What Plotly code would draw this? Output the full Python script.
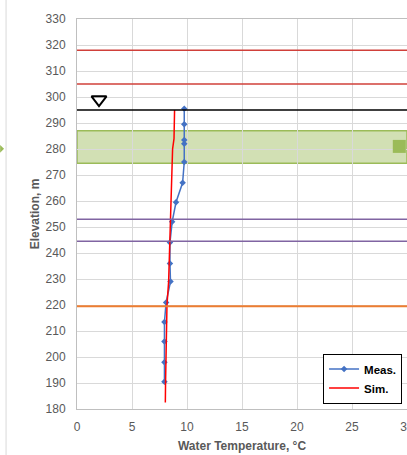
import plotly.graph_objects as go

# ---- data ----
meas_elev = [295.5, 289.5, 283.5, 282, 275, 267, 259.5, 252, 244, 236, 229, 221, 213.5, 206, 198, 190.5]
meas_temp = [9.75, 9.75, 9.75, 9.75, 9.75, 9.6, 9.0, 8.65, 8.45, 8.45, 8.5, 8.1, 7.95, 7.95, 7.95, 7.95]

sim_elev = [295, 284, 280, 270, 260, 253, 244, 229, 220, 210, 200, 190, 182.5]
sim_temp = [8.87, 8.82, 8.69, 8.62, 8.55, 8.5, 8.42, 8.33, 8.18, 8.12, 8.08, 8.05, 8.03]

red_levels = [318, 305]
water_level = 295
purple_levels = [253, 244.5]
orange_level = 219.5
band_bottom, band_top = 274.5, 287
wl_symbol = (2.0, 299)
band_marker = (29.3, 281)

x_ticks = [0, 5, 10, 15, 20, 25, 30]
y_ticks = list(range(180, 331, 10))

font_family = "Liberation Sans"
grey = "#595959"

fig = go.Figure()

# shaded band
fig.add_shape(type="rect", xref="paper", x0=0, x1=1, yref="y", y0=band_bottom, y1=band_top,
              fillcolor="rgba(155,187,89,0.45)", line=dict(color="#9BBB59", width=1.5), layer="below")

for lv in red_levels:
    fig.add_shape(type="line", xref="paper", x0=0, x1=1, yref="y", y0=lv, y1=lv,
                  line=dict(color="#D0403A", width=1.5))
fig.add_shape(type="line", xref="paper", x0=0, x1=1, yref="y", y0=water_level, y1=water_level,
              line=dict(color="#000000", width=1.5))
for lv in purple_levels:
    fig.add_shape(type="line", xref="paper", x0=0, x1=1, yref="y", y0=lv, y1=lv,
                  line=dict(color="#8064A2", width=1.5))
fig.add_shape(type="line", xref="paper", x0=0, x1=1, yref="y", y0=orange_level, y1=orange_level,
              line=dict(color="#ED7D31", width=2))

# outer chart border line on left and small green arrow
fig.add_shape(type="line", xref="paper", yref="paper", x0=-0.215, x1=-0.215, y0=-0.2, y1=1.1,
              line=dict(color="#D9D9D9", width=1))
fig.add_shape(type="path", xref="paper", yref="paper",
              path="M -0.233 0.677 L -0.221 0.667 L -0.233 0.657 Z",
              fillcolor="#9BBB59", line=dict(width=0))

fig.add_trace(go.Scatter(x=meas_temp, y=meas_elev, mode="lines+markers", name="Meas.",
                         line=dict(color="#4472C4", width=1.5),
                         marker=dict(symbol="diamond", size=5, color="#4472C4")))
fig.add_trace(go.Scatter(x=sim_temp, y=sim_elev, mode="lines", name="Sim.",
                         line=dict(color="#FF0000", width=1.5)))
fig.add_trace(go.Scatter(x=[wl_symbol[0]], y=[wl_symbol[1]], mode="markers", showlegend=False,
                         marker=dict(symbol="triangle-down-open", size=13, color="#000000",
                                     line=dict(width=2, color="#000000"))))
fig.add_trace(go.Scatter(x=[band_marker[0]], y=[band_marker[1]], mode="markers", showlegend=False,
                         marker=dict(symbol="square", size=13, color="#9BBB59")))

fig.update_layout(
    width=407, height=455,
    margin=dict(l=77, r=0, t=19, b=46, autoexpand=False),
    paper_bgcolor="white", plot_bgcolor="white",
    font=dict(family=font_family, color=grey, size=12),
    showlegend=True,
    legend=dict(x=0.985, y=0.014, xanchor="right", yanchor="bottom",
                bgcolor="white", bordercolor="#000000", borderwidth=1,
                font=dict(family=font_family, size=11.5, color="#000000", weight="bold"),
                itemwidth=30, tracegroupgap=0),
)
fig.update_xaxes(range=[0, 30], tickvals=x_ticks, showgrid=True, gridcolor="#D9D9D9", gridwidth=1,
                 showline=True, linecolor="#BFBFBF", mirror=True, zeroline=False, ticks="",
                 automargin=False,
                 tickfont=dict(size=12, color=grey), ticklabelstandoff=7, ticklabeloverflow="allow",
                 title=dict(text="Water Temperature, °C", font=dict(size=12, color=grey, weight="bold"), standoff=8))
fig.update_yaxes(range=[180, 330], tickvals=y_ticks, showgrid=True, gridcolor="#D9D9D9", gridwidth=1,
                 showline=True, linecolor="#BFBFBF", mirror=True, zeroline=False, ticks="",
                 automargin=False,
                 tickfont=dict(size=12, color=grey), ticklabelstandoff=8,
                 title=dict(text="Elevation, m", font=dict(size=12, color=grey, weight="bold"), standoff=3))

fig.write_html("out.html", config={"displayModeBar": False},
               post_script="document.body.style.margin='0';document.body.style.overflow='hidden';")
